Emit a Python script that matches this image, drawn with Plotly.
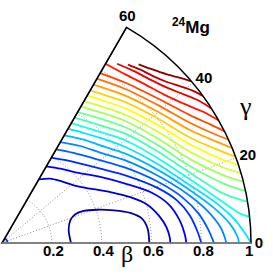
import plotly.graph_objects as go

# ---------------- data (beta, gamma[deg]) ----------------
NUCLEUS = "Mg"
MASS = "24"
BETA_TICKS = [0.2, 0.4, 0.6, 0.8, 1.0]
BETA_TICK_LABELS = ["0.2", "0.4", "0.6", "0.8", "1"]
GAMMA_TICKS = [0, 20, 40, 60]
GAMMA_TICK_LABELS = ["0", "20", "40", "60"]
BETA_MAX = 1.0
GAMMA_MAX = 60

ORIGIN_BETA = [0.022, 0.022, 0.022, 0.022, 0.022, 0.022, 0.022]
ORIGIN_GAMMA = [0, 10, 20, 30, 40, 50, 60]
ORIGIN_LEVEL = 3

C00_BETA = [0.277, 0.2725, 0.2891, 0.3162, 0.3523, 0.4043, 0.4673, 0.5293, 0.5706, 0.5878, 0.5917]
C00_GAMMA = [0, 10.8, 18.35, 21.35, 21.4, 19.3, 16.3, 13.2, 9.86, 5.62, 0]
C01_BETA = [0.295, 0.3232, 0.3419, 0.3694, 0.4165, 0.4809, 0.5475, 0.6027, 0.6389, 0.6631, 0.6738, 0.676]
C01_GAMMA = [60, 53.1, 46.75, 38.8, 31.6, 25.2, 19.7, 14.9, 10.0, 5.56, 2.05, 0]
C02_BETA = [0.3557, 0.3795, 0.413, 0.4756, 0.5497, 0.63, 0.6871, 0.7193, 0.7356, 0.7403]
C02_GAMMA = [60, 51.9, 43.2, 33.9, 25.7, 18.97, 13.06, 7.27, 2.4, 0]
C03_BETA = [0.396, 0.4223, 0.4554, 0.495, 0.5649, 0.6609, 0.7234, 0.7618, 0.787, 0.8005]
C03_GAMMA = [60, 51.8, 43.9, 37.1, 28.75, 19.65, 13.7, 8.39, 3.22, 0]
C04_BETA = [0.434, 0.462, 0.5159, 0.5804, 0.6699, 0.7462, 0.7985, 0.8316, 0.8514]
C04_GAMMA = [60, 51.5, 40.05, 31.4, 21.7, 14.3, 8.48, 3.5, 0]
C05_BETA = [0.468, 0.5007, 0.5362, 0.5963, 0.6792, 0.769, 0.8337, 0.8792, 0.8945, 0.9009]
C05_GAMMA = [60, 51.08, 42.6, 33.8, 23.6, 14.93, 9.06, 4.19, 1.54, 0]
C06_BETA = [0.499, 0.5289, 0.5566, 0.6116, 0.6892, 0.7854, 0.8618, 0.92, 0.9467, 0.9518]
C06_GAMMA = [60, 51.7, 44.8, 35.9, 25.4, 15.6, 9.48, 4.67, 1.46, 0]
C07_BETA = [0.530, 0.5502, 0.5778, 0.6277, 0.6993, 0.791, 0.8778, 0.9415, 0.9818, 1.0]
C07_GAMMA = [60, 53.4, 46.9, 37.9, 27.1, 17.0, 10.37, 5.55, 1.8, 0]
C08_BETA = [0.556, 0.5956, 0.6445, 0.7106, 0.798, 0.8934, 0.9644, 1.0]
C08_GAMMA = [60, 48.5, 39.8, 28.8, 18.6, 11.06, 7.02, 6.0]
C09_BETA = [0.581, 0.6158, 0.6619, 0.7239, 0.8069, 0.912, 1.0]
C09_GAMMA = [60, 50.1, 41.56, 30.7, 20.4, 12.55, 9.5]
C10_BETA = [0.607, 0.6367, 0.6791, 0.7372, 0.8166, 0.9216, 1.0]
C10_GAMMA = [60, 51.7, 43.2, 32.4, 22.15, 14.98, 12.0]
C11_BETA = [0.634, 0.6568, 0.6967, 0.7519, 0.8276, 0.9308, 1.0]
C11_GAMMA = [60, 53.0, 44.7, 34.1, 23.95, 16.97, 14.2]
C12_BETA = [0.658, 0.6773, 0.7148, 0.7672, 0.84, 0.9348, 1.0]
C12_GAMMA = [60, 54.3, 46.1, 35.8, 25.8, 19.06, 16.3]
C13_BETA = [0.685, 0.6981, 0.7334, 0.7832, 0.8533, 0.94, 1.0]
C13_GAMMA = [60, 55.55, 47.5, 37.4, 27.6, 21.1, 18.3]
C14_BETA = [0.708, 0.7181, 0.7523, 0.7997, 0.8666, 0.9464, 1.0]
C14_GAMMA = [60, 56.6, 48.8, 38.9, 29.2, 23.2, 20.3]
C15_BETA = [0.734, 0.7716, 0.8168, 0.8814, 0.954, 1.0]
C15_GAMMA = [60, 50.07, 40.35, 30.9, 25.2, 22.4]
C16_BETA = [0.762, 0.7924, 0.8344, 0.8968, 0.9568, 1.0]
C16_GAMMA = [60, 51.3, 41.75, 32.5, 27.3, 24.5]
C17_BETA = [0.788, 0.8124, 0.8524, 0.9138, 0.9629, 1.0]
C17_GAMMA = [60, 52.4, 43.1, 34.1, 29.66, 26.7]
C18_BETA = [0.8315, 0.8391, 0.8562, 0.882, 0.9195, 0.9658, 1.0]
C18_GAMMA = [60, 53.8, 48.36, 42.6, 37.5, 33.0, 29.5]
C19_BETA = [0.8556, 0.8699, 0.8861, 0.9101, 0.9427, 0.9789, 1.0]
C19_GAMMA = [57.3, 52.6, 47.76, 43.27, 39.3, 35.5, 32.6]
C20_BETA = [0.877, 0.8906, 0.905, 0.9258, 0.9533, 0.9824, 1.0]
C20_GAMMA = [54.75, 51.4, 47.7, 44.3, 41.3, 38.4, 36.2]
C21_BETA = [0.9034, 0.9193, 0.9476, 0.9757, 1.0]
C21_GAMMA = [52.6, 49.6, 45.6, 42.8, 40.5]

CONTOURS = [
    (C00_BETA, C00_GAMMA), (C01_BETA, C01_GAMMA), (C02_BETA, C02_GAMMA),
    (C03_BETA, C03_GAMMA), (C04_BETA, C04_GAMMA), (C05_BETA, C05_GAMMA),
    (C06_BETA, C06_GAMMA), (C07_BETA, C07_GAMMA), (C08_BETA, C08_GAMMA),
    (C09_BETA, C09_GAMMA), (C10_BETA, C10_GAMMA), (C11_BETA, C11_GAMMA),
    (C12_BETA, C12_GAMMA), (C13_BETA, C13_GAMMA), (C14_BETA, C14_GAMMA),
    (C15_BETA, C15_GAMMA), (C16_BETA, C16_GAMMA), (C17_BETA, C17_GAMMA),
    (C18_BETA, C18_GAMMA), (C19_BETA, C19_GAMMA), (C20_BETA, C20_GAMMA),
    (C21_BETA, C21_GAMMA),
]

# ---------------- styling ----------------
W, H = 273, 278
X0, Y0, RPX = 2, 243, 249          # origin and radius of the sector, in pixels
T0, DT = 0.03, 0.0457


def jet(t):
    def c(v):
        return max(0.0, min(1.0, v))
    r = c(1.5 - abs(4 * t - 3))
    g = c(1.5 - abs(4 * t - 2))
    b = c(1.5 - abs(4 * t - 1))
    return "rgb(%d,%d,%d)" % (round(r * 255), round(g * 255), round(b * 255))


def level_color(i):
    return jet(T0 + DT * i)


def px(x):
    return x / W


def py(y):
    return 1 - y / H


fig = go.Figure()
fig.add_trace(go.Scatterpolar(
    r=ORIGIN_BETA, theta=ORIGIN_GAMMA, mode="lines",
    line=dict(color=level_color(ORIGIN_LEVEL), width=1.7),
    hoverinfo="skip", showlegend=False))
for i, (b, g) in enumerate(CONTOURS):
    fig.add_trace(go.Scatterpolar(
        r=b, theta=g, mode="lines",
        line=dict(color=level_color(i), width=1.8, shape="spline", smoothing=0.8),
        hoverinfo="skip", showlegend=False))

# sector edge at gamma = 60
fig.add_trace(go.Scatterpolar(
    r=[0, BETA_MAX], theta=[GAMMA_MAX, GAMMA_MAX], mode="lines",
    line=dict(color="black", width=1.5), hoverinfo="skip", showlegend=False))

tick_font = dict(family="Liberation Sans", size=15, color="black", weight=700)

annotations = []
# beta tick labels under the gamma = 0 edge
for v, lab in zip(BETA_TICKS, BETA_TICK_LABELS):
    annotations.append(dict(
        x=px(X0 + RPX * v + (2 if v < 1 else -2)), y=py(250), xref="paper", yref="paper",
        text=lab, showarrow=False, xanchor="center", yanchor="middle", font=tick_font))
# the "60" label sits straight above the tip
annotations.append(dict(x=px(127), y=py(15), xref="paper", yref="paper", text=GAMMA_TICK_LABELS[-1],
                        showarrow=False, xanchor="center", yanchor="middle", font=tick_font))
annotations += [
    dict(x=px(127), y=py(254), xref="paper", yref="paper", text="β",
         showarrow=False, xanchor="center", yanchor="middle",
         font=dict(family="Liberation Serif", size=24, color="black")),
    dict(x=px(245), y=py(106), xref="paper", yref="paper", text="γ",
         showarrow=False, xanchor="center", yanchor="middle",
         font=dict(family="Liberation Serif", size=26, color="black")),
    dict(x=px(191), y=py(39), xref="paper", yref="paper",
         text="<sup>%s</sup>%s" % (MASS, NUCLEUS),
         showarrow=False, xanchor="center", yanchor="bottom",
         font=dict(family="Liberation Sans", size=17, color="black", weight=700)),
]

fig.update_layout(
    width=W, height=H,
    margin=dict(l=0, r=0, t=0, b=0, pad=0),
    paper_bgcolor="white",
    polar=dict(
        domain=dict(x=[px(X0), px(X0 + RPX)], y=[py(Y0), py(Y0 - RPX * 0.8660254)]),
        sector=[0, GAMMA_MAX],
        bgcolor="white",
        radialaxis=dict(
            range=[0, BETA_MAX], tickvals=BETA_TICKS,
            showgrid=True, gridcolor="#8a8a8a", griddash="1px,2px", gridwidth=1,
            showline=True, linecolor="#c8c8c8", linewidth=1,
            ticks="", showticklabels=False, angle=0,
        ),
        angularaxis=dict(
            tickvals=GAMMA_TICKS[:-1], ticktext=GAMMA_TICK_LABELS[:-1],
            showgrid=True, gridcolor="#8a8a8a", griddash="1px,2px", gridwidth=1,
            showline=True, linecolor="black", linewidth=1.5,
            ticks="", tickfont=tick_font,
            direction="counterclockwise", rotation=0,
        ),
    ),
    annotations=annotations,
)

fig.write_html("out.html", config={"displayModeBar": False},
               post_script="document.body.style.margin='0px';")
